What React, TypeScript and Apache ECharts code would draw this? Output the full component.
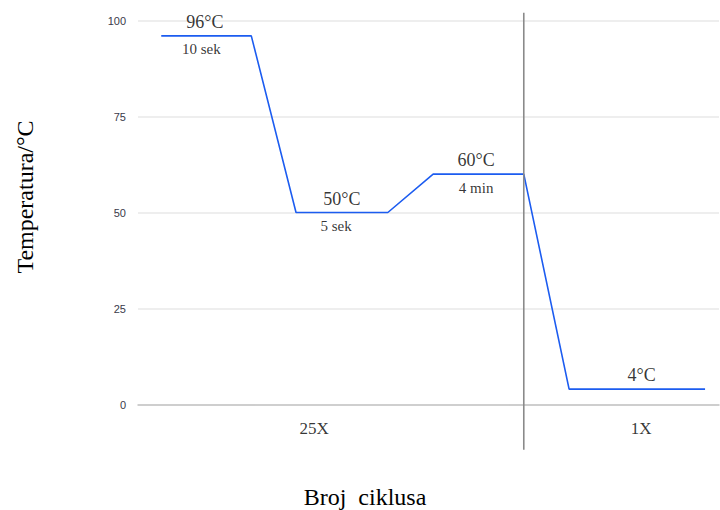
import React, { useEffect, useRef } from "react";
import * as echarts from "echarts";

// Temperature profile (x = position along the cycle, y = °C)
const profileX = [4, 19.5, 27.2, 43, 50.8, 66.4, 74.2, 97.6];
const profileT = [96, 96, 50, 50, 60, 60, 4, 4];

// Annotations on the profile
const annotText = ["96°C", "10 sek", "50°C", "5 sek", "60°C", "4 min", "4°C"];
const annotX = [11.5, 10.9, 35.1, 34.1, 58.2, 58.2, 86.7];
const annotT = [96, 96, 50, 50, 60, 60, 4];
const annotSide = ["top", "bottom", "top", "bottom", "top", "bottom", "top"];

// Cycle blocks
const cycleText = ["25X", "1X"];
const cycleX = [30.3, 86.6];
const dividerX = [66.4];

const yTicks = [0, 25, 50, 75, 100];

const yTitle = "Temperatura/°C";
const xTitle = "Broj  ciklusa";

const SERIF = "'Liberation Serif', 'Times New Roman', serif";

export default function App() {
  const ref = useRef<HTMLDivElement>(null);

  useEffect(() => {
    if (!ref.current) return;
    const chart = echarts.init(ref.current, null, { renderer: "svg" });

    const lineData = profileX.map((x, i) => [x, profileT[i]]);
    const annotData = annotText.map((t, i) => ({
      name: t,
      value: [annotX[i], annotT[i]],
      label: {
        position: annotSide[i],
        distance: annotSide[i] === "top" ? 5 : 6,
        fontSize: annotSide[i] === "top" ? 18 : 15,
      },
    }));
    const cycleData = cycleText.map((t, i) => ({ name: t, value: [cycleX[i], 0] }));

    chart.setOption({
      animation: false,
      grid: { left: 138, right: 1, top: 20.5, bottom: 105.5 },
      xAxis: {
        type: "value",
        min: 0,
        max: 100,
        axisLabel: { show: false },
        axisTick: { show: false },
        splitLine: { show: false },
        axisLine: { show: true, lineStyle: { color: "#c4c4c4", width: 1.5 } },
      },
      yAxis: {
        type: "value",
        min: yTicks[0],
        max: yTicks[yTicks.length - 1],
        interval: 25,
        axisLine: { show: false },
        axisTick: { show: false },
        axisLabel: {
          margin: 12,
          fontSize: 11,
          fontFamily: "'Liberation Sans', Arial, sans-serif",
          color: "#3a3a4a",
        },
        splitLine: { lineStyle: { color: "#e8e8e8", width: 1.5 } },
      },
      series: [
        {
          type: "line",
          data: lineData,
          symbol: "none",
          lineStyle: { color: "#1c5cf0", width: 1.6 },
          z: 3,
        },
        {
          type: "custom",
          data: dividerX.map((x) => [x]),
          clip: false,
          renderItem: (params: any, api: any) => {
            const top = api.coord([api.value(0), 102]);
            const bot = api.coord([api.value(0), -11.8]);
            return {
              type: "line",
              shape: { x1: top[0], y1: top[1], x2: bot[0], y2: bot[1] },
              style: { stroke: "#8a8a8a", lineWidth: 1.6 },
            };
          },
          z: 4,
        },
        {
          type: "scatter",
          data: annotData,
          symbolSize: 0,
          label: {
            show: true,
            formatter: "{b}",
            fontFamily: SERIF,
            color: "#000",
          },
          z: 5,
        },
        {
          type: "scatter",
          data: cycleData,
          symbolSize: 0,
          label: {
            show: true,
            formatter: "{b}",
            position: "bottom",
            distance: 15,
            fontFamily: SERIF,
            fontSize: 17,
            color: "#000",
          },
          z: 5,
        },
      ],
      graphic: [
        {
          type: "text",
          x: 365,
          y: 497,
          style: {
            text: xTitle,
            fontFamily: SERIF,
            fontSize: 24,
            fill: "#000",
            align: "center",
            verticalAlign: "middle",
          },
        },
        {
          type: "text",
          x: 25,
          y: 197,
          rotation: Math.PI / 2,
          style: {
            text: yTitle,
            fontFamily: SERIF,
            fontSize: 24,
            fill: "#000",
            align: "center",
            verticalAlign: "middle",
          },
        },
      ],
    });

    return () => chart.dispose();
  }, []);

  return (
    <div
      ref={ref}
      style={{ position: "fixed", left: 0, top: 0, width: 720, height: 510, background: "#fff" }}
    />
  );
}
